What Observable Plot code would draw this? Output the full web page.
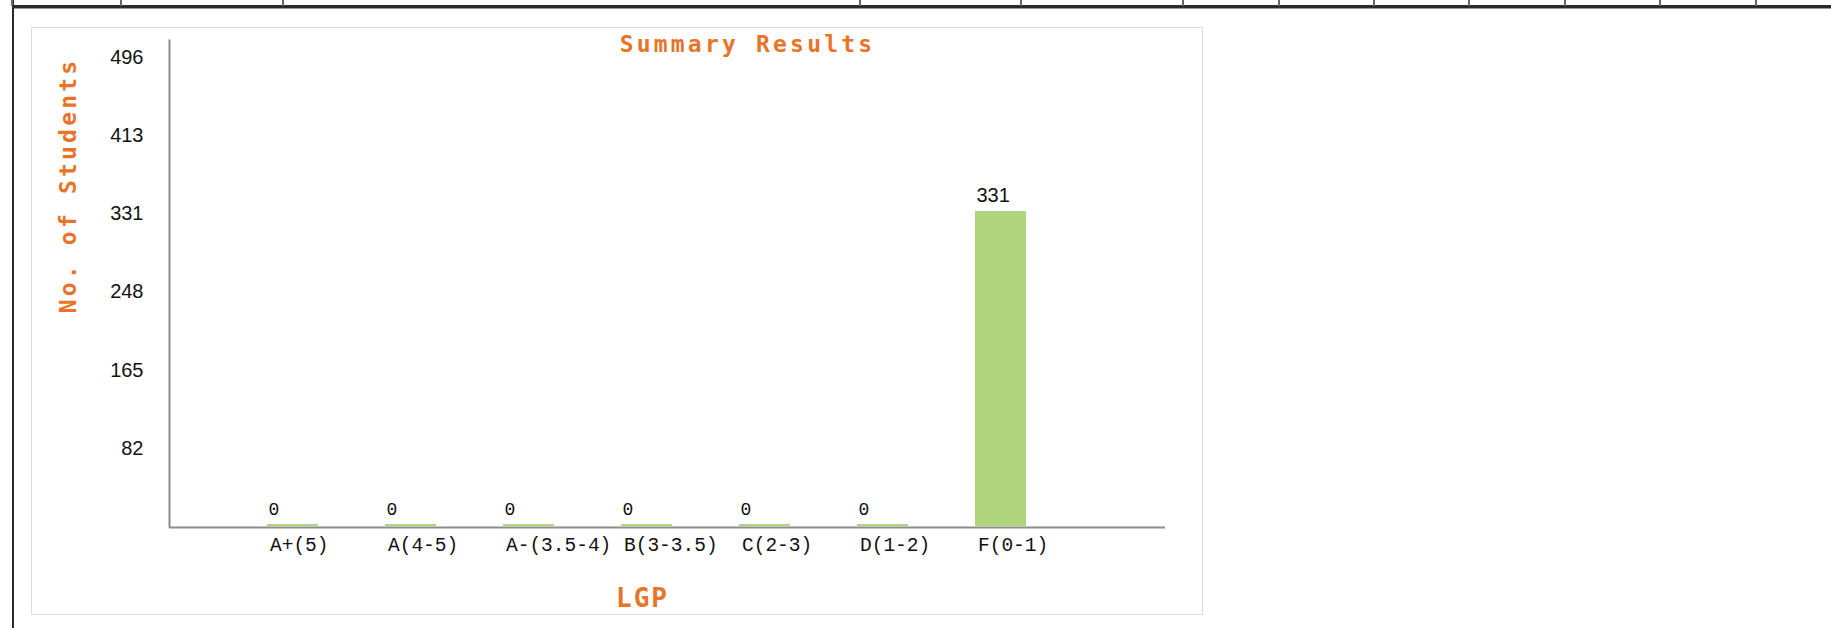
<!DOCTYPE html>
<html>
<head>
<meta charset="utf-8">
<script src="https://cdn.jsdelivr.net/npm/d3@7"></script>
<script src="https://cdn.jsdelivr.net/npm/@observablehq/plot@0.6"></script>
<style>
  html, body { margin: 0; padding: 0; background: #fff; }
  body { width: 1831px; height: 628px; overflow: hidden; position: relative; }
  .hline1 { position: absolute; left: 12px; right: 0; top: 5px; height: 3px; background: #2a2a2a; }
  .hline2 { position: absolute; left: 12px; right: 0; top: 8px; height: 1px; background: #9a9a9a; }
  .vleft { position: absolute; left: 12px; top: 0; width: 2px; height: 628px; background: #2a2a2a; }
  .vtick { position: absolute; top: 0; width: 2px; height: 6px; background: #666; }
  #box { position: absolute; left: 31px; top: 27px; width: 1170px; height: 586px; border: 1px solid #dcdcdc; }
  #box svg { position: absolute; left: 0; top: 0; }
</style>
</head>
<body>
<div class="hline1"></div>
<div class="hline2"></div>
<div class="vleft"></div>
<div id="box"></div>
<script>
// ---- data ----
const categories = ["A+(5)", "A(4-5)", "A-(3.5-4)", "B(3-3.5)", "C(2-3)", "D(1-2)", "F(0-1)"];
const students = [0, 0, 0, 0, 0, 0, 331];
const yTicks = [82, 165, 248, 331, 413, 496];
const yMax = 496;
const chartTitle = "Summary Results";
const xTitle = "LGP";
const yTitle = "No. of Students";

// page decoration (table cell dividers above the chart)
const dividerX = [12, 121, 283, 860, 1021, 1183, 1279, 1374, 1469, 1565, 1660, 1756];
for (const x of dividerX) {
  const d = document.createElement("div");
  d.className = "vtick";
  d.style.left = (x - 1) + "px";
  document.body.appendChild(d);
}

const data = categories.map((c, i) => ({cat: c, n: students[i]}));

const orange = "#e8742a";
const green = "#aed57c";
const axisGray = "#8c8c8c";
const mono = "'DejaVu Sans Mono', monospace";
const thinMono = "'Liberation Mono', 'DejaVu Sans Mono', monospace";
const sans = "'Liberation Sans', Arial, sans-serif";

const chart = Plot.plot({
  width: 1170,
  height: 586,
  marginLeft: 137,
  marginRight: 37,
  marginTop: 12,
  marginBottom: 88,
  style: {background: "transparent", overflow: "visible"},
  x: {domain: categories, range: [234, 995], paddingInner: 0.569, paddingOuter: 0},
  y: {domain: [0, yMax], range: [498, 29]},
  marks: [
    Plot.barY(data, {x: "cat", y: "n", fill: green, insetTop: -2}),
    Plot.ruleY([0], {stroke: axisGray, strokeWidth: 2, dy: 1}),
    Plot.frame({anchor: "left", stroke: axisGray, strokeWidth: 2}),
    Plot.axisY({ticks: yTicks, tickSize: 0, tickPadding: 26, fontSize: 20, fontFamily: sans, fill: "#111", label: null, tickFormat: d => String(d)}),
    Plot.axisX({tickSize: 0, tickPadding: 11, textAnchor: "start", dx: -23, fontSize: 19.5, fontFamily: thinMono, fill: "#111", label: null}),
    Plot.text(data, {filter: d => d.n === 0, x: "cat", y: "n", text: d => String(d.n), textAnchor: "start", dx: -24.5, dy: -17, lineAnchor: "middle", fontSize: 18, fontFamily: thinMono, fill: "#111"}),
    Plot.text(data, {filter: d => d.n !== 0, x: "cat", y: "n", text: d => String(d.n), textAnchor: "start", dx: -24.5, dy: -17.5, lineAnchor: "middle", fontSize: 20, fontFamily: sans, fill: "#111"}),
    Plot.text([chartTitle], {frameAnchor: "top", textAnchor: "middle", dx: 80, dy: 4, lineAnchor: "middle", fontSize: 23, fontWeight: "bold", fontFamily: mono, fill: orange}),
    Plot.text([yTitle], {frameAnchor: "left", textAnchor: "middle", rotate: -90, dx: -101, dy: -98, lineAnchor: "middle", fontSize: 23, fontWeight: "bold", fontFamily: mono, fill: orange}),
    Plot.text([xTitle], {frameAnchor: "bottom", textAnchor: "middle", dx: -25, dy: 72, lineAnchor: "middle", fontSize: 26, fontWeight: "bold", fontFamily: mono, fill: orange})
  ]
});

document.getElementById("box").appendChild(chart);
const texts = d3.select(chart).selectAll("text");
texts.filter(function() { return this.textContent === chartTitle || this.textContent === yTitle; }).style("letter-spacing", "3.2px");
texts.filter(function() { return this.textContent === xTitle; }).style("letter-spacing", "2px");
</script>
</body>
</html>
